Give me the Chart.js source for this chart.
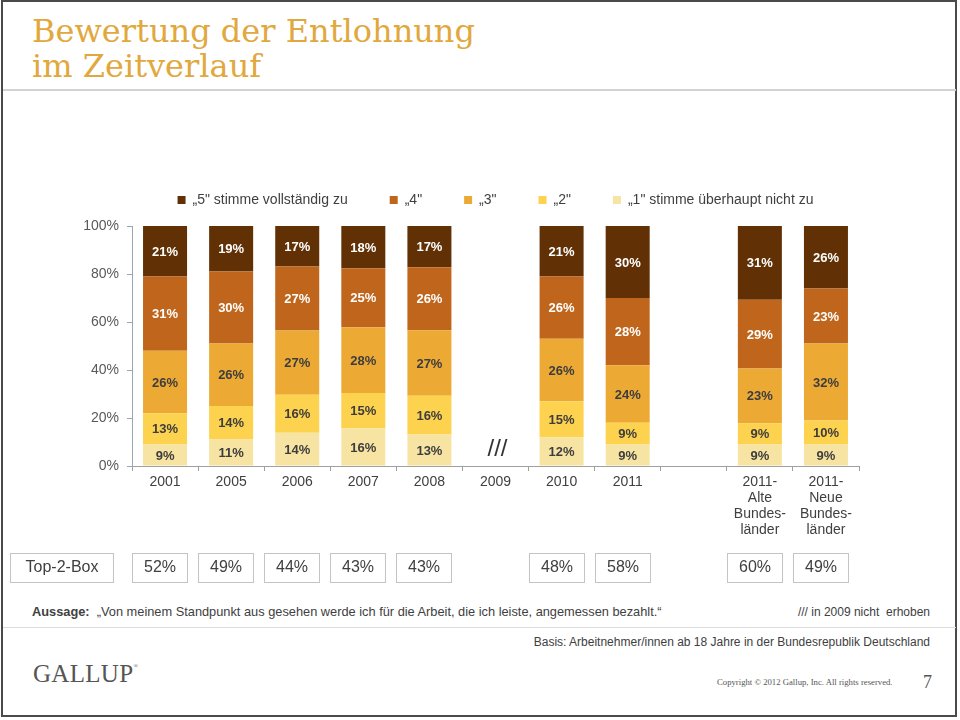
<!DOCTYPE html>
<html lang="de">
<head>
<meta charset="utf-8">
<title>Bewertung der Entlohnung im Zeitverlauf</title>
<script src="https://cdn.jsdelivr.net/npm/chart.js@4.4.1/dist/chart.umd.min.js"></script>
<style>
  html, body { margin: 0; padding: 0; background: #fff; }
  body { width: 960px; height: 720px; position: relative; overflow: hidden; font-family: "Liberation Sans", Arial, sans-serif; }
  .frame { position: absolute; left: 1px; top: 0; width: 956px; height: 717px; border: 2px solid #4a4a4a; box-sizing: border-box; }
  .titel { position: absolute; left: 32px; top: 14px; margin: 0; font: 32px/35px "DejaVu Serif", serif; color: #e1a83d; font-weight: normal; }
  .rule { position: absolute; left: 3px; right: 4px; height: 0; border-top: 2px solid #d2d2d2; }
  #chartBox { position: absolute; left: 0; top: 100px; width: 960px; height: 500px; }
  .aussage { position: absolute; left: 32px; top: 604px; font-size: 12.8px; color: #404040; }
  .aussage b { color: #404040; }
  .hinweis { position: absolute; right: 30px; top: 605px; font-size: 12px; color: #404040; }
  .basis { position: absolute; right: 30px; top: 635px; font-size: 12px; color: #404040; }
  .logo { position: absolute; left: 33px; top: 660px; font: 25px "Liberation Serif", serif; color: #555; letter-spacing: 0.3px; }
  .logo sup { font-size: 6px; vertical-align: 14px; }
  .copy { position: absolute; left: 717px; top: 677px; font: 8.7px "Liberation Serif", serif; color: #555; }
  .seite { position: absolute; left: 923px; top: 672px; font: 18px "Liberation Serif", serif; color: #555; }
</style>
</head>
<body>
<div class="frame"></div>
<h1 class="titel">Bewertung der Entlohnung<br>im Zeitverlauf</h1>
<div class="rule" style="top:89px"></div>

<div id="chartBox"><canvas id="chartEntlohnung"></canvas></div>

<div class="aussage"><b>Aussage:</b>&nbsp; „Von meinem Standpunkt aus gesehen werde ich für die Arbeit, die ich leiste, angemessen bezahlt.“</div>
<div class="hinweis">/// in 2009 nicht&nbsp; erhoben</div>
<div class="rule" style="top:627px; border-top:1px solid #dcdcdc"></div>
<div class="basis">Basis: Arbeitnehmer/innen ab 18 Jahre in der Bundesrepublik Deutschland</div>
<div class="logo">GALLUP<sup>®</sup></div>
<div class="copy">Copyright © 2012 Gallup, Inc. All rights reserved.</div>
<div class="seite">7</div>

<script>
/* Daten */
const kategorien = ['2001', '2005', '2006', '2007', '2008', '2009', '2010', '2011', '',
  ['2011-', 'Alte', 'Bundes-', 'länder'], ['2011-', 'Neue', 'Bundes-', 'länder']];
// von unten ("1") nach oben ("5")
const stufe1 = [9, 11, 14, 16, 13, null, 12, 9, null, 9, 9];
const stufe2 = [13, 14, 16, 15, 16, null, 15, 9, null, 9, 10];
const stufe3 = [26, 26, 27, 28, 27, null, 26, 24, null, 23, 32];
const stufe4 = [31, 30, 27, 25, 26, null, 26, 28, null, 29, 23];
const stufe5 = [21, 19, 17, 18, 17, null, 21, 30, null, 31, 26];
const top2Box = [52, 49, 44, 43, 43, null, 48, 58, null, 60, 49];
const yTicks = [0, 20, 40, 60, 80, 100];
const legendenText = ['„1" stimme überhaupt nicht zu', '„2"', '„3"', '„4"', '„5" stimme vollständig zu'];

const farben = ['#f7e4a2', '#fdd24f', '#ecaa35', '#c0661c', '#613105'];
const textFarben = ['#3d3d3d', '#3d3d3d', '#3d3d3d', '#ffffff', '#ffffff'];
const alleStufen = [stufe1, stufe2, stufe3, stufe4, stufe5];
const schrift = '"Liberation Sans", Arial, sans-serif';

/* 100%-Stapel: jede Säule auf ihre Summe bezogen */
const summen = kategorien.map((k, j) => {
  let s = 0;
  alleStufen.forEach(st => { if (st[j] != null) s += st[j]; });
  return s;
});
function anteil(st) {
  return st.map((v, j) => v == null ? null : v / summen[j] * 100);
}

/* Beschriftungen, /// und Top-2-Box */
const beschriftung = {
  id: 'beschriftung',
  afterLayout(chart) {
    chart.legend.top -= 9;
    chart.legend.bottom -= 9;
  },
  afterDatasetsDraw(chart) {
    const c = chart.ctx;
    const xs = chart.scales.x;
    const ys = chart.scales.y;
    c.save();
    c.textAlign = 'center';
    c.textBaseline = 'middle';
    c.font = 'bold 13px ' + schrift;
    alleStufen.forEach((st, i) => {
      const meta = chart.getDatasetMeta(i);
      meta.data.forEach((bar, j) => {
        if (st[j] == null) return;
        const p = bar.getProps(['x', 'y', 'base'], true);
        c.fillStyle = textFarben[i];
        c.fillText(st[j] + '%', p.x, (p.y + p.base) / 2 + 1);
      });
    });

    c.font = '24px ' + schrift;
    c.fillStyle = '#333';
    c.fillText('///', xs.getPixelForValue(5) + 2, ys.getPixelForValue(7));

    c.strokeStyle = '#c4c4c4';
    c.lineWidth = 1;
    c.font = '16px ' + schrift;
    c.fillStyle = '#404040';
    const boxTop = 453;
    c.strokeRect(10.5, boxTop + 0.5, 103, 29);
    c.fillText('Top-2-Box', 62, boxTop + 15);
    top2Box.forEach((v, j) => {
      if (v == null) return;
      const cx = Math.round(xs.getPixelForValue(j) - 5);
      c.strokeRect(cx - 27.5, boxTop + 0.5, 55, 29);
      c.fillText(v + '%', cx, boxTop + 15);
    });
    c.restore();
  }
};

new Chart(document.getElementById('chartEntlohnung'), {
  type: 'bar',
  data: {
    labels: kategorien,
    datasets: alleStufen.map((st, i) => ({
      label: legendenText[i],
      data: anteil(st),
      backgroundColor: farben[i],
      borderColor: farben[i],
      borderWidth: 0,
      categoryPercentage: 1,
      barPercentage: 0.666
    }))
  },
  options: {
    responsive: true,
    maintainAspectRatio: false,
    animation: false,
    layout: { padding: { top: 60, right: 101, bottom: 54, left: 0 } },
    plugins: {
      tooltip: { enabled: false },
      legend: {
        position: 'top',
        fullSize: false,
        reverse: true,
        labels: {
          boxWidth: 8,
          boxHeight: 8,
          padding: 42,
          color: '#404040',
          font: { family: schrift, size: 14 }
        }
      }
    },
    scales: {
      x: {
        stacked: true,
        afterFit(scale) { scale.height = 80; },
        grid: { offset: true, drawOnChartArea: false, drawTicks: true, tickLength: 5, color: '#a0a0a0' },
        border: { display: true, color: '#a0a0a0' },
        ticks: { color: '#404040', padding: 3, maxRotation: 0, autoSkip: false, font: { family: schrift, size: 14, lineHeight: 1.15 } }
      },
      y: {
        stacked: true,
        min: 0,
        max: 100,
        afterFit(scale) { scale.width = 132; },
        afterBuildTicks(scale) { scale.ticks = yTicks.map(v => ({ value: v })); },
        grid: { drawOnChartArea: false, drawTicks: true, tickLength: 5, color: '#9aa6b4' },
        border: { display: true, color: '#9aa6b4' },
        ticks: { color: '#595959', padding: 8, font: { family: schrift, size: 14 }, callback: v => v + '%' }
      }
    }
  },
  plugins: [beschriftung]
});
</script>
</body>
</html>
